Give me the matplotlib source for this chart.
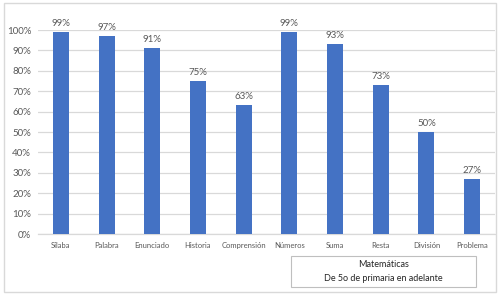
import matplotlib
matplotlib.use("Agg")
import matplotlib.pyplot as plt
from matplotlib.patches import Rectangle

categories = ["Sílaba", "Palabra", "Enunciado", "Historia", "Comprensión",
              "Números", "Suma", "Resta", "División", "Problema"]
values = [0.99, 0.97, 0.91, 0.75, 0.63, 0.99, 0.93, 0.73, 0.50, 0.27]
yticks = [0, 0.1, 0.2, 0.3, 0.4, 0.5, 0.6, 0.7, 0.8, 0.9, 1.0]
ytick_labels = ["0%", "10%", "20%", "30%", "40%", "50%", "60%", "70%", "80%", "90%", "100%"]
box_text = "Matemáticas\nDe 5o de primaria en adelante"

plt.rcParams['font.family'] = ['Lato', 'DejaVu Sans']
W, H = 501, 294
fig = plt.figure(figsize=(W/100, H/100), dpi=100)
fig.patch.set_facecolor("white")

ax = fig.add_axes([38/W, 1-234/H, (495-38)/W, (234-30)/H])
x = list(range(len(categories)))
bars = ax.bar(x, values, width=0.35, color="#4472C4", zorder=3)
ax.set_xlim(-0.5, len(categories)-0.5)
ax.set_ylim(0, 1.0)
ax.set_yticks(yticks)
ax.set_yticklabels(ytick_labels, fontsize=7, color="#595959")
ax.set_xticks(x)
ax.set_xticklabels(categories, fontsize=5.5, color="#595959")
ax.tick_params(axis="both", length=0)
ax.tick_params(axis="y", pad=5)
ax.tick_params(axis="x", pad=6)
ax.grid(axis="y", color="#D9D9D9", linewidth=0.9, zorder=0)
for s in ["top", "right", "left"]:
    ax.spines[s].set_visible(False)
ax.spines["bottom"].set_color("#D9D9D9")
ax.spines["bottom"].set_linewidth(0.9)

for xi, v in zip(x, values):
    ax.annotate(f"{int(round(v*100))}%", (xi, v), xytext=(0, 3), textcoords="offset points",
                ha="center", va="bottom", fontsize=7, color="#595959", clip_on=False)

# outer frame
fig.add_artist(Rectangle((4/W, 1-292/H), (496-4)/W, (292-3)/H, transform=fig.transFigure,
                         fill=False, edgecolor="#D9D9D9", linewidth=1))
# text box
fig.add_artist(Rectangle((291/W, 1-287/H), (476-291)/W, (287-256)/H, transform=fig.transFigure,
                         fill=False, edgecolor="#BFBFBF", linewidth=0.8))
fig.text(383.5/W, 1-271.5/H, box_text, ha="center", va="center", fontsize=6.5,
         color="#262626", linespacing=1.6)

fig.savefig("out.png", dpi=100)
